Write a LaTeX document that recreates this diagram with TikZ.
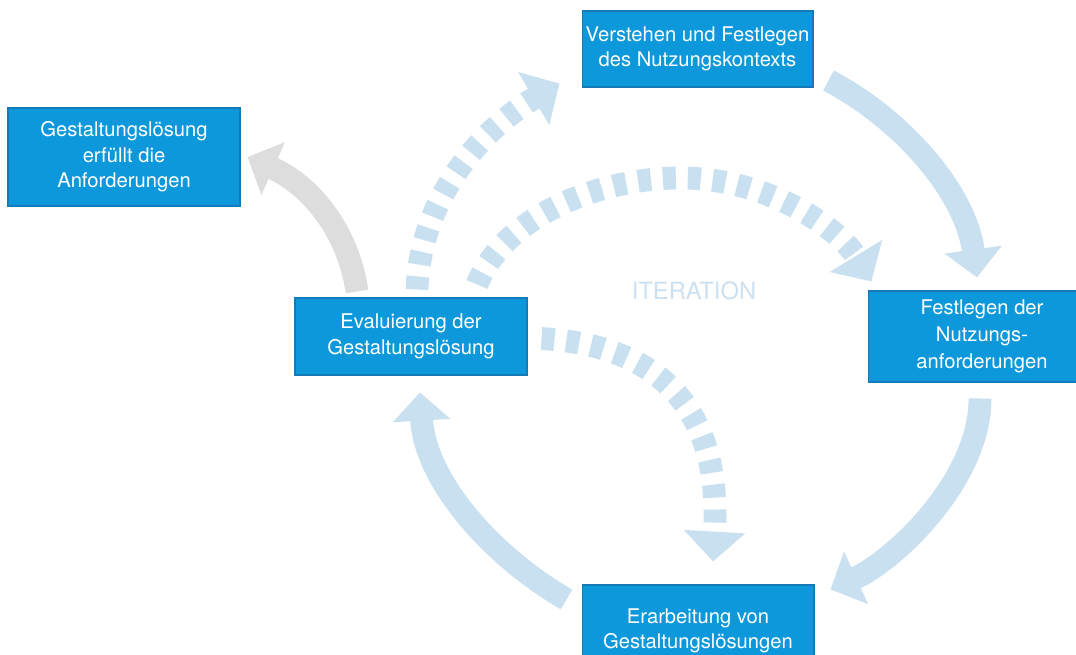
\documentclass[tikz,border=0pt]{standalone}
\usepackage{fontspec}
\setmainfont{TeX Gyre Heros}
\usetikzlibrary{arrows.meta}
\definecolor{kastenblau}{RGB}{12,152,218}
\definecolor{kastenrand}{RGB}{22,122,182}
\definecolor{pfeilblau}{RGB}{200,224,240}
\definecolor{pfeilgrau}{RGB}{221,221,221}
\definecolor{iterblau}{RGB}{205,224,240}
\tikzset{
        schritt/.style={draw=kastenrand, line width=.6pt, fill=kastenblau, text=white, align=center, inner sep=0pt, font=\fontsize{11.5}{14.5}\selectfont},
        zyklus/.style={draw=pfeilblau, line width=13pt, -{Triangle[width=32pt,length=16pt]}},
        iteration/.style={zyklus, dash pattern=on 7.4pt off 6.8pt, -{Triangle[width=34pt,length=17pt]}}
}

\begin{document}
\begin{tikzpicture}[x=0.02cm,y=-0.02cm]
        \useasboundingbox (0,0) rectangle (1076,655);

        \node[schritt, minimum width=4.64cm, minimum height=1.96cm] (loesung) at (124,157) {Gestaltungslösung\\erfüllt die\\Anforderungen};
        \node[schritt, minimum width=4.62cm, minimum height=1.52cm] (kontext) at (697.5,49) {Verstehen und Festlegen\\des Nutzungskontexts};
        \node[schritt, minimum width=4.64cm, minimum height=1.54cm] (evaluierung) at (411,336.5) {Evaluierung der\\Gestaltungslösung};
        \node[schritt, minimum width=4.56cm, minimum height=1.82cm, font=\fontsize{11.5}{15.5}\selectfont] (anforderung) at (982,336.5) {Festlegen der\\Nutzungs-\\anforderungen};
        \node[schritt, minimum width=4.64cm, minimum height=1.84cm] (erarbeitung) at (698,631) {Erarbeitung von\\Gestaltungslösungen};
        \node[text=iterblau, font=\fontsize{13.5}{16}\selectfont] (iter) at (694,291) {ITERATION};

        \draw[zyklus] ([shift={(15,-7)}]kontext.south east) .. controls (900,118) and (965,190) .. ([shift={(-5,-13)}]anforderung.north);
        \draw[zyklus] ([shift={(-2,16)}]anforderung.south) .. controls (980,480) and (895,560) .. ([shift={(16,5)}]erarbeitung.north east);
        \draw[zyklus] ([shift={(-15,15)}]erarbeitung.north west) .. controls (490,555) and (425,480) .. ([shift={(9,17)}]evaluierung.south);
        \draw[zyklus, draw=pfeilgrau] ([shift={(-54,-6)}]evaluierung.north) .. controls (348,230) and (310,185) .. ([shift={(7,0)}]loesung.east);

        \coordinate (scheitel) at (680,178);
        \draw[iteration] ([shift={(6,-8)}]evaluierung.north) .. controls (420,200) and (480,130) .. ([shift={(-22,-4)}]kontext.south west);
        \draw[iteration] ([shift={(66,-13)}]evaluierung.north) .. controls (505,215) and (600,178) .. (scheitel) .. controls (770,178) and (840,230) .. ([shift={(4,-9)}]anforderung.north west);
        \draw[iteration] ([shift={(14,2)}]evaluierung.east) .. controls (650,345) and (722,400) .. ([shift={(15,-23)}]erarbeitung.north);
\end{tikzpicture}
\end{document}
